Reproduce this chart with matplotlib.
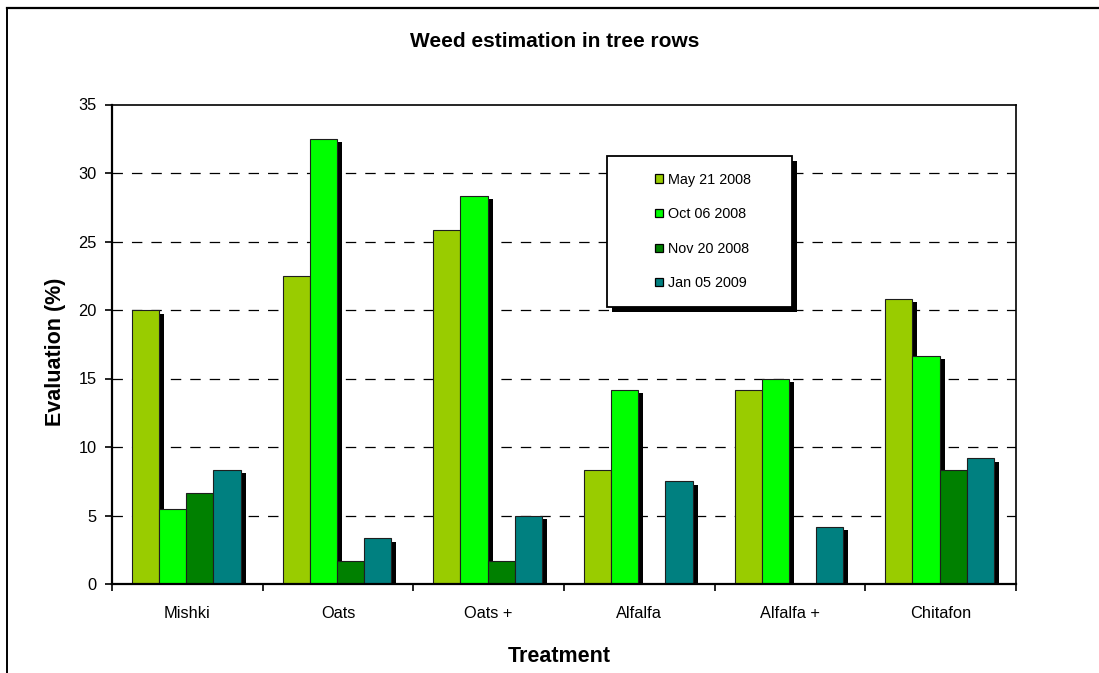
import matplotlib
matplotlib.use("Agg")
import matplotlib.pyplot as plt
import matplotlib.transforms as mtransforms
from matplotlib.patches import Rectangle, Patch
from matplotlib.lines import Line2D
import numpy as np

plt.rcParams['font.family'] = ['Liberation Sans', 'DejaVu Sans']
plt.rcParams['lines.scale_dashes'] = False

# ---- data ----
treatments = ["Mishki", "Oats", "Oats +", "Alfalfa", "Alfalfa +", "Chitafon"]
series_names = ["May 21 2008", "Oct 06 2008", "Nov 20 2008", "Jan 05 2009"]
may_2008 = [20.0, 22.5, 25.83, 8.33, 14.17, 20.83]
oct_2008 = [5.5, 32.5, 28.33, 14.17, 15.0, 16.67]
nov_2008 = [6.67, 1.67, 1.67, 0.0, 0.0, 8.33]
jan_2009 = [8.33, 3.33, 5.0, 7.5, 4.17, 9.17]
y_ticks = [0, 5, 10, 15, 20, 25, 30, 35]

series_values = [may_2008, oct_2008, nov_2008, jan_2009]
colors = ["#99CC00", "#00FF00", "#008000", "#008080"]

W, H = 1099, 673
DPI = 100
fig = plt.figure(figsize=(W / DPI, H / DPI), dpi=DPI)
fig.patch.set_facecolor("white")


def px(x, y):
    """pixel position (from top-left) -> figure fraction"""
    return x / W, 1 - y / H


# plot area
ax_l, ax_r, ax_t, ax_b = 112, 1016, 104.5, 584
ax = fig.add_axes([ax_l / W, 1 - ax_b / H, (ax_r - ax_l) / W, (ax_b - ax_t) / H])

x = np.arange(len(treatments))
bar_w = 0.18
offsets = [(j - 1.5) * bar_w - 0.007 for j in range(4)]

# drop shadow for each bar: shifted right and down in pixels
shadow_tr = ax.transData + mtransforms.ScaledTranslation(5 / DPI, -3.5 / DPI, fig.dpi_scale_trans)
for j, vals in enumerate(series_values):
    ax.bar(x + offsets[j], vals, bar_w, color="black", linewidth=0,
           transform=shadow_tr, zorder=1.5)

for j, vals in enumerate(series_values):
    ax.bar(x + offsets[j], vals, bar_w, color=colors[j], edgecolor="#1e1e1e",
           linewidth=0.8, zorder=2)

ax.set_xlim(-0.5, len(treatments) - 0.5)
ax.set_ylim(0, 35)
ax.set_yticks(y_ticks)
ax.set_yticklabels([str(t) for t in y_ticks], fontsize=11.8)

# category ticks at group boundaries, labels at centres
ax.set_xticks(np.arange(-0.5, len(treatments), 1.0))
ax.set_xticklabels([])
ax.set_xticks(x, minor=True)
ax.set_xticklabels(treatments, minor=True, fontsize=11.8)
ax.tick_params(axis="x", which="minor", length=0, pad=16)
ax.tick_params(axis="x", which="major", length=5, width=1.2, direction="out")
ax.tick_params(axis="y", length=5, width=1.2, direction="out", pad=6)

for g in [5, 10, 15, 20, 25, 30]:
    ax.axhline(g, color="black", linewidth=0.9, linestyle=(0, (7.5, 6.5)), zorder=1)

for side in ["left", "bottom"]:
    ax.spines[side].set_linewidth(1.6)
for side in ["top", "right"]:
    ax.spines[side].set_linewidth(1.2)

# titles and axis labels
fig.text(*px(555, 46.7), "Weed estimation in tree rows", ha="center", va="baseline",
         fontsize=15, fontweight="bold")
fig.text(*px(559, 661.7), "Treatment", ha="center", va="baseline",
         fontsize=15.5, fontweight="bold")
fig.text(*px(55, 352), "Evaluation (%)", ha="center", va="center", rotation=90,
         fontsize=15.5, fontweight="bold")

# outer chart border (top and left edges fall inside the image)
fig.add_artist(Line2D([7 / W, 1.0], [1 - 8 / H, 1 - 8 / H], transform=fig.transFigure,
                      color="black", linewidth=1.6))
fig.add_artist(Line2D([7 / W, 7 / W], [0, 1 - 8 / H], transform=fig.transFigure,
                      color="black", linewidth=1.4))

# legend box with drop shadow
lg_l, lg_t, lg_r, lg_b = 607, 156, 792, 307
fig.add_artist(Rectangle(px(lg_l + 5, lg_b + 5), (lg_r - lg_l) / W, (lg_b - lg_t) / H,
                         transform=fig.transFigure, facecolor="black", edgecolor="none",
                         zorder=3))
fig.add_artist(Rectangle(px(lg_l, lg_b), (lg_r - lg_l) / W, (lg_b - lg_t) / H,
                         transform=fig.transFigure, facecolor="white", edgecolor="black",
                         linewidth=1.3, zorder=4))
handles = [Patch(facecolor=c, edgecolor="black", linewidth=0.9) for c in colors]
leg = fig.legend(handles, series_names, loc="center", bbox_to_anchor=px(703, 231.5),
                 frameon=False, fontsize=10.4, handlelength=0.5, handleheight=0.5,
                 handletextpad=0.35, labelspacing=1.42, borderpad=0, borderaxespad=0)
leg.set_zorder(5)

fig.savefig("out.png", dpi=DPI, facecolor="white")
